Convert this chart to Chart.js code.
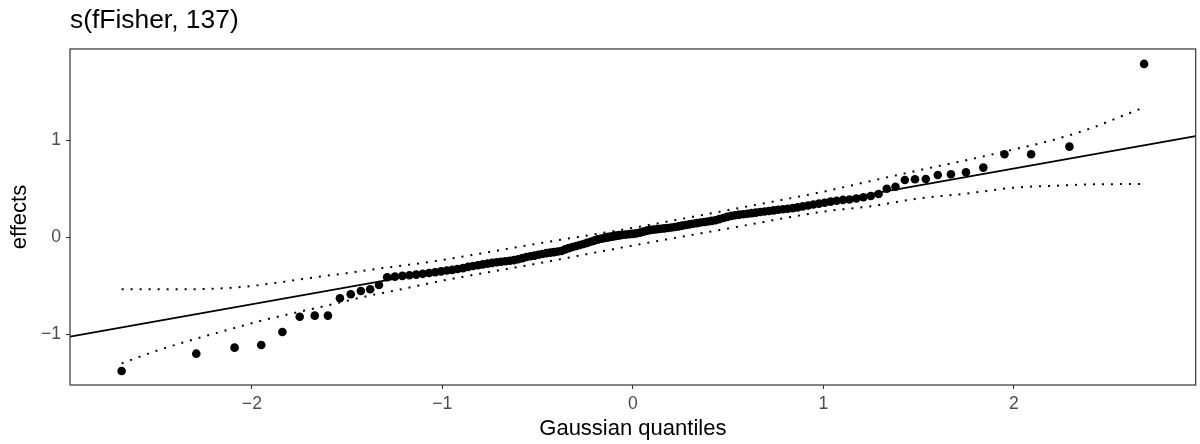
<!DOCTYPE html>
<html>
<head>
<meta charset="utf-8">
<script src="https://cdn.jsdelivr.net/npm/chart.js@4.4.1/dist/chart.umd.min.js"></script>
<style>
  html, body { margin: 0; padding: 0; background: #ffffff; }
  #wrap { width: 1200px; height: 444px; }
</style>
</head>
<body>
<div id="wrap"><canvas id="c" width="1200" height="444"></canvas></div>
<script>
// Gaussian quantiles (x positions of the 137 random effects)
const gaussianQuantiles = [
  -2.684,-2.292,-2.091,-1.951,-1.840,-1.749,-1.670,-1.601,-1.538,-1.481,
  -1.428,-1.379,-1.333,-1.290,-1.249,-1.210,-1.173,-1.137,-1.103,-1.070,
  -1.038,-1.007,-0.977,-0.948,-0.920,-0.892,-0.865,-0.839,-0.813,-0.788,
  -0.763,-0.739,-0.715,-0.692,-0.669,-0.646,-0.624,-0.602,-0.580,-0.558,
  -0.537,-0.516,-0.495,-0.475,-0.454,-0.434,-0.414,-0.394,-0.375,-0.355,
  -0.336,-0.316,-0.297,-0.278,-0.259,-0.240,-0.221,-0.203,-0.184,-0.165,
  -0.147,-0.128,-0.110,-0.092,-0.073,-0.055,-0.037,-0.018,
  0,
  0.018,0.037,0.055,0.073,0.092,0.110,0.128,0.147,0.165,0.184,
  0.203,0.221,0.240,0.259,0.278,0.297,0.316,0.336,0.355,0.375,
  0.394,0.414,0.434,0.454,0.475,0.495,0.516,0.537,0.558,0.580,
  0.602,0.624,0.646,0.669,0.692,0.715,0.739,0.763,0.788,0.813,
  0.839,0.865,0.892,0.920,0.948,0.977,1.007,1.038,1.070,1.103,
  1.137,1.173,1.210,1.249,1.290,1.333,1.379,1.428,1.481,1.538,
  1.601,1.670,1.749,1.840,1.951,2.091,2.292,2.684
];

// Sorted estimated random effects
const effects = [
  -1.378,-1.200,-1.138,-1.110,-0.976,-0.819,-0.808,-0.808,-0.629,-0.588,
  -0.554,-0.536,-0.492,-0.412,
  -0.406,-0.398,-0.392,-0.385,-0.377,-0.368,-0.360,-0.352,-0.343,-0.336,
  -0.327,-0.318,-0.305,-0.296,-0.288,-0.280,-0.272,-0.264,-0.257,-0.252,
  -0.247,-0.242,-0.236,-0.226,-0.215,-0.203,-0.196,-0.189,-0.181,-0.172,
  -0.164,-0.158,-0.153,-0.147,-0.141,-0.125,-0.112,-0.100,-0.090,-0.080,
  -0.070,-0.058,-0.047,-0.035,-0.022,-0.012,-0.004,0.004,0.011,0.017,
  0.022,0.026,0.029,0.032,
  0.035,
  0.040,0.048,0.058,0.068,0.076,0.080,0.084,0.088,0.092,0.096,
  0.101,0.106,0.112,0.120,0.127,0.133,0.139,0.146,0.152,0.157,
  0.163,0.169,0.176,0.187,0.199,0.210,0.220,0.227,0.233,0.238,
  0.243,0.249,0.254,0.260,0.266,0.271,0.277,0.283,0.289,0.294,
  0.300,0.308,0.318,0.328,0.338,0.347,0.356,0.367,0.377,0.385,
  0.390,0.400,0.412,0.426,0.446,0.500,0.520,0.590,0.598,0.601,
  0.642,0.649,0.670,0.718,0.856,0.856,0.934,1.787
];

// Confidence band (dotted) read at these quantiles
const bandX     = [-2.684,-2.5,-2.3,-2.1,-1.95,-1.8,-1.66,-1.5,-1.38,-1.25,-1.0,-0.5,0,0.5,1.0,1.25,1.5,1.75,2.0,2.2,2.4,2.55,2.684];
const bandUpper = [-0.536,-0.537,-0.535,-0.52,-0.49,-0.45,-0.41,-0.37,-0.335,-0.303,-0.234,-0.065,0.097,0.28,0.47,0.58,0.69,0.794,0.905,1.0,1.12,1.235,1.34];
const bandLower = [-1.30,-1.17,-1.05,-0.94,-0.86,-0.79,-0.728,-0.655,-0.60,-0.55,-0.447,-0.27,-0.085,0.09,0.264,0.32,0.40,0.45,0.511,0.53,0.545,0.548,0.549];

// Reference (QQ) line, read at the panel edges
const refLineX = [-2.955, 2.955];
const refLineY = [-1.025, 1.043];

// Axis ticks
const xTicks = [-2, -1, 0, 1, 2];
const yTicks = [-1, 0, 1];

const titleText = 's(fFisher, 137)';
const xTitle = 'Gaussian quantiles';
const yTitle = 'effects';

const FONT = "'Liberation Sans', Arial, Helvetica, sans-serif";
const fmt = v => (v < 0 ? '\u2212' + Math.abs(v) : String(v));

const panelBorder = {
  id: 'panelBorder',
  afterDatasetsDraw(chart) {
    const { ctx, chartArea: a } = chart;
    ctx.save();
    ctx.strokeStyle = '#333333';
    ctx.lineWidth = 1.2;
    ctx.strokeRect(a.left, a.top, a.right - a.left, a.bottom - a.top);
    ctx.restore();
  }
};

const toPts = (xs, ys) => xs.map((x, i) => ({ x: x, y: ys[i] }));

new Chart(document.getElementById('c').getContext('2d'), {
  type: 'scatter',
  data: {
    datasets: [
      {
        label: 'effects',
        data: toPts(gaussianQuantiles, effects),
        pointRadius: 4.3,
        pointBackgroundColor: '#000000',
        pointBorderWidth: 0,
        showLine: false,
        order: 0
      },
      {
        label: 'upper',
        data: toPts(bandX, bandUpper),
        showLine: true,
        pointRadius: 0,
        borderColor: '#000000',
        borderWidth: 2,
        borderDash: [2, 7],
        cubicInterpolationMode: 'monotone',
        order: 1
      },
      {
        label: 'lower',
        data: toPts(bandX, bandLower),
        showLine: true,
        pointRadius: 0,
        borderColor: '#000000',
        borderWidth: 2,
        borderDash: [2, 7],
        cubicInterpolationMode: 'monotone',
        order: 2
      },
      {
        label: 'qqline',
        data: toPts(refLineX, refLineY),
        showLine: true,
        pointRadius: 0,
        borderColor: '#000000',
        borderWidth: 1.8,
        order: 3
      }
    ]
  },
  options: {
    responsive: false,
    animation: false,
    events: [],
    layout: { padding: { left: 0, right: 4, top: 0, bottom: 0 } },
    plugins: {
      legend: { display: false },
      tooltip: { enabled: false },
      title: {
        display: true,
        text: titleText,
        align: 'start',
        fullSize: false,
        color: '#000000',
        font: { family: FONT, size: 26.4, weight: 'normal', lineHeight: 1.2 },
        padding: { top: 5, bottom: 12.3 }
      }
    },
    scales: {
      x: {
        type: 'linear',
        min: -2.955,
        max: 2.955,
        afterBuildTicks: s => { s.ticks = xTicks.map(v => ({ value: v })); },
        afterFit: s => { s.height = 59; },
        grid: { drawOnChartArea: false, drawTicks: true, tickLength: 4, tickColor: '#333333', tickWidth: 1.1 },
        border: { display: false },
        ticks: {
          padding: 5,
          color: '#4d4d4d',
          maxRotation: 0,
          autoSkip: false,
          font: { family: FONT, size: 17.6, lineHeight: 1.2 },
          callback: v => fmt(v)
        },
        title: {
          display: true,
          text: xTitle,
          color: '#000000',
          font: { family: FONT, size: 22, lineHeight: 1.2 },
          padding: { top: 0, bottom: 1.4 }
        }
      },
      y: {
        type: 'linear',
        min: -1.523,
        max: 1.941,
        afterBuildTicks: s => { s.ticks = yTicks.map(v => ({ value: v })); },
        afterFit: s => { s.width = 70; },
        grid: { drawOnChartArea: false, drawTicks: true, tickLength: 4, tickColor: '#333333', tickWidth: 1.1 },
        border: { display: false },
        ticks: {
          padding: 5,
          color: '#4d4d4d',
          autoSkip: false,
          font: { family: FONT, size: 17.6, lineHeight: 1.2 },
          callback: v => fmt(v)
        },
        title: {
          display: true,
          text: yTitle,
          color: '#000000',
          font: { family: FONT, size: 22, lineHeight: 1.2 },
          padding: { top: 7.2, bottom: 0 }
        }
      }
    }
  },
  plugins: [panelBorder]
});
</script>
</body>
</html>
